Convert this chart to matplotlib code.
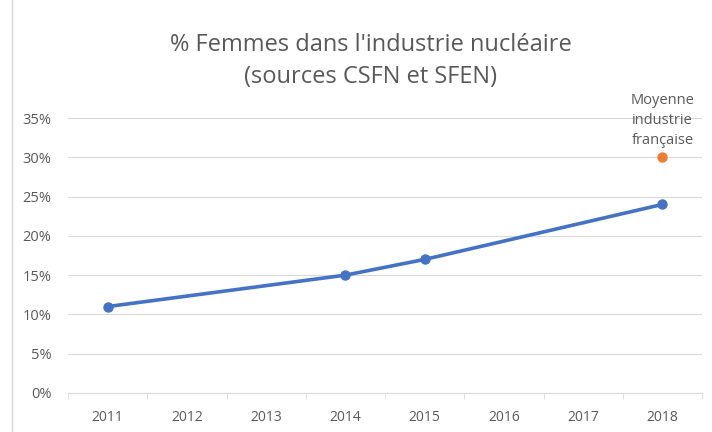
import matplotlib.pyplot as plt
from matplotlib.lines import Line2D

years = ["2011", "2012", "2013", "2014", "2015", "2016", "2017", "2018"]
nuc_years = ["2011", "2014", "2015", "2018"]
nuc_pct = [0.11, 0.15, 0.17, 0.24]
avg_year = "2018"
avg_pct = 0.30
yticks = [0, 0.05, 0.10, 0.15, 0.20, 0.25, 0.30, 0.35]

plt.rcParams['font.family'] = ['Open Sans', 'DejaVu Sans']
grey = '#595959'

fig = plt.figure(figsize=(7.12, 4.32), dpi=100)
ax = fig.add_axes([68/712, 1-393/432, 634/712, 275/432])

xs = [years.index(y) for y in nuc_years]
ax.plot(xs, nuc_pct, color='#4472C4', lw=2.6, marker='o', ms=6.5,
        solid_capstyle='round', zorder=3)
ax.plot([years.index(avg_year)], [avg_pct], 'o', color='#ED7D31', ms=6.5, zorder=3)
ax.text(years.index(avg_year), avg_pct + 0.012, "Moyenne\nindustrie\nfrançaise",
        ha='center', va='bottom', fontsize=10.5, color=grey, linespacing=1.45)

ax.set_xlim(-0.5, len(years) - 0.5)
ax.set_ylim(0, 0.35)
ax.set_yticks(yticks)
ax.set_yticklabels([f"{int(round(v*100))}%" for v in yticks])
ax.set_xticks(range(len(years)))
ax.set_xticklabels(years)
ax.set_xticks([i - 0.5 for i in range(len(years) + 1)], minor=True)
ax.tick_params(axis='x', which='major', length=0, pad=12, labelsize=10, labelcolor=grey)
ax.tick_params(axis='x', which='minor', length=4, color='#d9d9d9', direction='out')
ax.tick_params(axis='y', length=0, pad=12, labelsize=10.5, labelcolor=grey)
ax.grid(axis='y', color='#d9d9d9', lw=0.8)
ax.set_axisbelow(True)
for s in ['top', 'right', 'left']:
    ax.spines[s].set_visible(False)
ax.spines['bottom'].set_color('#d9d9d9')

fig.text(371/712, 1-61/432, "% Femmes dans l'industrie nucléaire\n(sources CSFN et SFEN)",
         ha='center', va='center', fontsize=17, color=grey, linespacing=1.4)

fig.add_artist(Line2D([12/712, 12/712], [0, 1], color='#d9d9d9', lw=1))

fig.savefig("out.png", dpi=100)
